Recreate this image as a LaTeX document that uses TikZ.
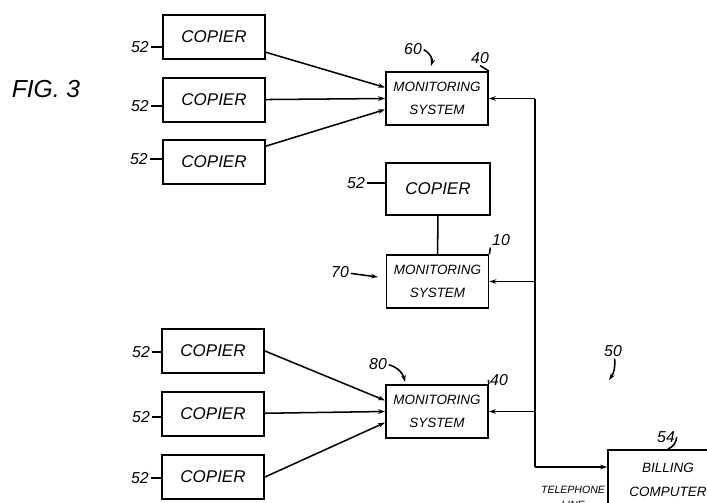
\documentclass[tikz,border=0pt]{standalone}
\usepackage{fontspec}
\setmainfont{Liberation Sans}
\usetikzlibrary{arrows.meta}

\begin{document}
\begin{tikzpicture}[x=0.03cm,y=-0.03cm,font=\itshape,line width=1.3pt]
\clip (0,0) rectangle (707,502);
\node (FIG) at (46,89) {\fontsize{21}{21}\selectfont FIG. 3};

% boxes
\begin{scope}[every node/.style={rectangle,draw,line width=1.6pt,minimum width=3.06cm,
              minimum height=1.32cm,font=\itshape\fontsize{14.5}{14.5}\selectfont}]
    \node (A) at (214,37) {COPIER};
    \node (B) at (214,100) {COPIER};
    \node (C) at (214,162) {COPIER};
    \node (D) at (438,189) [minimum width=3.12cm,minimum height=1.56cm] {COPIER};
    \node (E) at (213,351) {COPIER};
    \node (F) at (213,414) {COPIER};
    \node (G) at (213,477) {COPIER};
\end{scope}

\begin{scope}[every node/.style={rectangle,draw,line width=1.6pt,minimum width=3.06cm,
              minimum height=1.59cm,align=center,font=\itshape\fontsize{11.5}{20}\selectfont}]
    \node (M1) at (437,98.5) {MONITORING\\SYSTEM};
    \node (M2) at (437.5,281.5) {MONITORING\\SYSTEM};
    \node (M3) at (437,411.5) {MONITORING\\SYSTEM};
    \node (BC) at (668,480) [minimum width=3.6cm,minimum height=1.8cm] {BILLING\\COMPUTER};
\end{scope}

% reference numerals
\begin{scope}[every node/.style={inner sep=1pt,font=\itshape\fontsize{13.5}{13.5}\selectfont}]
    \node (LA) at (140,47) {52};
    \node (LB) at (140,106) {52};
    \node (LC) at (139,159) {52};
    \node (LD) at (356,183) {52};
    \node (LE) at (141,352) {52};
    \node (LF) at (141,417) {52};
    \node (LG) at (140,478) {52};
    \node (L60) at (413,49) {60};
    \node (L40a) at (480,58) {40};
    \node (L10) at (501,240) {10};
    \node (L70) at (340,272) {70};
    \node (L80) at (378,364) {80};
    \node (L40b) at (499,380) {40};
    \node (L50) at (613,351) {50};
    \node (L54) at (666,437) {54};
    \node (TL) at (573,484) [anchor=north,align=center,font=\itshape\fontsize{9}{13}\selectfont] {TELEPHONE\\LINE};
\end{scope}

\coordinate (T) at (535,98.5);
\coordinate (U) at (535,467);
\coordinate (P60) at (431,66);
\coordinate (P70) at (378,277);
\coordinate (P80) at (405,382);
\coordinate (P50) at (609,380);

\begin{scope}[>={Stealth[black,length=6pt,width=4pt]}]
    \path [->] (A) edge (M1.168);
    \path [->] (B) edge (M1.west);
    \path [->] (C) edge (M1.192);
    \path [->] (E.east) edge (M3.168);
    \path [->] (F) edge (M3.west);
    \path [->] (G.east) edge (M3.192);
    \path [-] (D) edge (M2);

    \draw (T) -- (U);
    \path [->] (T) edge (M1.east);
    \path [->] (M2.east -| T) edge (M2.east);
    \path [->] (M3.east -| T) edge (M3.east);
    \path [->] (U) edge (BC.west |- U);

    \path [->] (L60) edge [bend left=40] (P60);
    \path [->] (L70) edge (P70);
    \path [->] (L80) edge [bend left=30] (P80);
    \path [->] (L50) edge [bend left=20] (P50);
\end{scope}

% leader ticks
\draw (LA.east) -- (A.west |- LA);
\draw (LB.east) -- (B.west |- LB);
\draw (LC.east) -- (C.west |- LC);
\draw (LD.east) -- (D.west |- LD);
\draw (LE.east) -- (E.west |- LE);
\draw (LF.east) -- (F.west |- LF);
\draw (LG.east) -- (G.west |- LG);
\draw (L40a.south) -- (M1.north east);
\draw (L10.south west) -- (M2.north east);
\draw (L40b.west) -- (M3.north east);
\draw (L54.east) to [bend left=30] (BC.north);
\end{tikzpicture}
\end{document}
